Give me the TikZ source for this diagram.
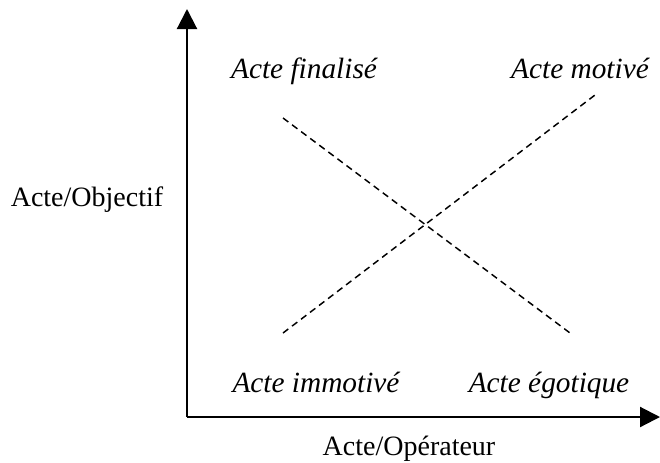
\documentclass[tikz,border=0pt]{standalone}
\usepackage{fontspec}
\setmainfont{Liberation Serif}
\usetikzlibrary{arrows.meta}
\begin{document}
\begin{tikzpicture}[x=0.75pt,y=-0.75pt,
  axis/.style={line width=1.6pt,-{Triangle[length=15pt,width=15pt]}},
  diag/.style={line width=1.1pt,dash pattern=on 5pt off 3.5pt},
  lbl/.style={font=\fontsize{22}{26}\selectfont\itshape,anchor=base},
  axlbl/.style={font=\fontsize{21}{25}\selectfont,anchor=base}]
  \useasboundingbox (0,0) rectangle (660,462);
  % axes
  \coordinate (o) at (187,417);
  \coordinate (ytip) at (187,9);
  \coordinate (xtip) at (660,417);
  \draw[axis] (o) -- (ytip);
  \draw[axis] (o) -- (xtip);
  % crossing dashed lines
  \coordinate (a1) at (283,118);
  \coordinate (a2) at (570,333);
  \coordinate (b1) at (283,333);
  \coordinate (b2) at (595,95);
  \draw[diag] (a1) -- (a2);
  \draw[diag] (b1) -- (b2);
  % quadrant labels
  \node[lbl] (fin) at (304,78) {Acte finalisé};
  \node[lbl] (mot) at (580,78) {Acte motivé};
  \node[lbl] (imm) at (316,392) {Acte immotivé};
  \node[lbl] (ego) at (549,392) {Acte égotique};
  % axis labels
  \node[axlbl] (yl) at (87,206) {Acte/Objectif};
  \node[axlbl] (xl) at (409,455) {Acte/Opérateur};
\end{tikzpicture}
\end{document}
